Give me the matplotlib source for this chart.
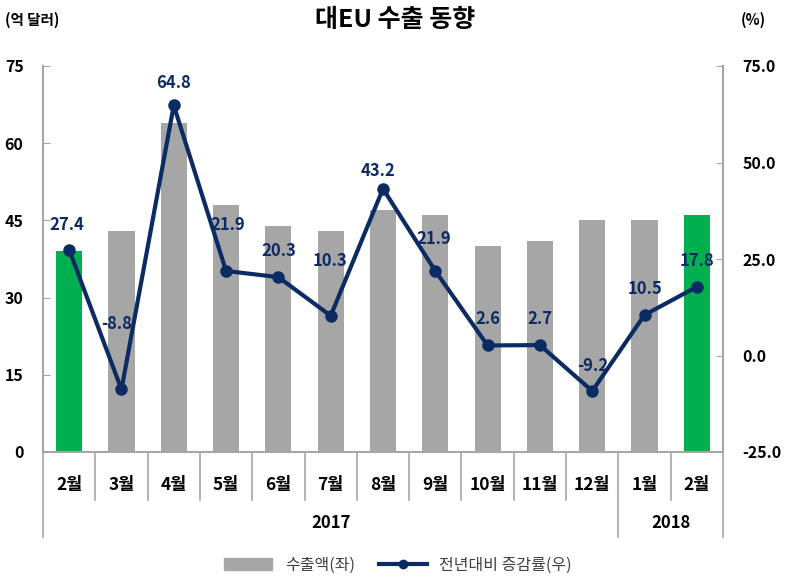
import matplotlib
matplotlib.use("Agg")
import matplotlib.pyplot as plt
from matplotlib.transforms import blended_transform_factory
from matplotlib.patches import Patch
from matplotlib.lines import Line2D

plt.rcParams['font.family'] = ['Noto Sans CJK KR', 'DejaVu Sans']

months = ['2월', '3월', '4월', '5월', '6월', '7월', '8월', '9월', '10월', '11월', '12월', '1월', '2월']
years = ['2017', '2018']
exports = [39, 43, 64, 48, 44, 43, 47, 46, 40, 41, 45, 45, 46]
growth = [27.4, -8.8, 64.8, 21.9, 20.3, 10.3, 43.2, 21.9, 2.6, 2.7, -9.2, 10.5, 17.8]
left_ticks = [0, 15, 30, 45, 60, 75]
right_ticks = [-25.0, 0.0, 25.0, 50.0, 75.0]

# label offsets (pixels, label centre relative to point)
label_dx = [-2, -5, 0, 2, 0, -1, -5, -2, 0, 0, 0, 0, 0]
label_dy = [25, 65, 22, 46, 26, 55, 18, 32, 26, 26, 25, 26, 26]

gray = '#A6A6A6'
green = '#00B050'
navy = '#0C2B63'
axcol = '#A6A6A6'

fig = plt.figure(figsize=(7.91, 5.87), dpi=100)
ax = fig.add_axes([43/791, 1-452/587, (723-43)/791, (452-66)/587])
ax2 = ax.twinx()

x = list(range(len(months)))
colors = [green if i in (0, len(months)-1) else gray for i in x]
ax.bar(x, exports, width=0.5, color=colors, zorder=1)
ax.set_xlim(-0.5, len(months)-0.5)
ax.set_ylim(0, 75)
ax.set_yticks(left_ticks)
ax.set_yticklabels([str(t) for t in left_ticks], fontsize=11.5, fontweight='bold')
ax2.set_ylim(-25, 75)
ax2.set_yticks(right_ticks)
ax2.set_yticklabels([f'{t:.1f}' for t in right_ticks], fontsize=11.5, fontweight='bold')
ax2.plot(x, growth, color=navy, lw=3, marker='o', ms=8, zorder=3)
pt = 72/100
for xi, g, dx, dy in zip(x, growth, label_dx, label_dy):
    ax2.annotate(f'{g}', (xi, g), xytext=(dx*pt, dy*pt), textcoords='offset points',
                 ha='center', va='center', fontsize=12, fontweight='bold', color=navy)

for a in (ax, ax2):
    a.spines['top'].set_visible(False)
    for s in ('left', 'right', 'bottom'):
        a.spines[s].set_color(axcol)
        a.spines[s].set_linewidth(1.5)
ax.spines['right'].set_visible(False)
ax2.spines['left'].set_visible(False)
ax2.spines['bottom'].set_visible(False)
ax.tick_params(axis='y', direction='in', length=5, color=axcol, pad=14)
ax2.tick_params(axis='y', direction='in', length=5, color=axcol, pad=14)
ax.set_xticks([])

trans = blended_transform_factory(ax.transData, ax.transAxes)
for i, m in enumerate(months):
    ax.text(i, -0.085, m, transform=trans, ha='center', va='center', fontsize=12.5, fontweight='bold')
for i in range(len(months)+1):
    b = i - 0.5
    end = -0.22 if b in (-0.5, 10.5, 12.5) else -0.125
    ax.plot([b, b], [0, end], transform=trans, color=axcol, lw=1.2, clip_on=False)
ax.text(5.0, -0.185, years[0], transform=trans, ha='center', va='center', fontsize=12, fontweight='bold')
ax.text(11.5, -0.185, years[1], transform=trans, ha='center', va='center', fontsize=12, fontweight='bold')

fig.text(395/791, 1-20/587, '대EU 수출 동향', ha='center', va='center', fontsize=18, fontweight='bold')
fig.text(5/791, 1-20/587, '(억 달러)', ha='left', va='center', fontsize=10.5, fontweight='bold')
fig.text(766/791, 1-20/587, '(%)', ha='right', va='center', fontsize=10.5, fontweight='bold')

handles = [Patch(color=gray), Line2D([0], [0], color=navy, lw=3, marker='o', ms=6)]
fig.legend(handles, ['수출액(좌)', '전년대비 증감률(우)'], loc='center', bbox_to_anchor=(398/791, 1-565/587),
           ncol=2, frameon=False, fontsize=11.5, handlelength=3, columnspacing=1.5,
           labelcolor='#404040')

fig.savefig('out.png', dpi=100)
